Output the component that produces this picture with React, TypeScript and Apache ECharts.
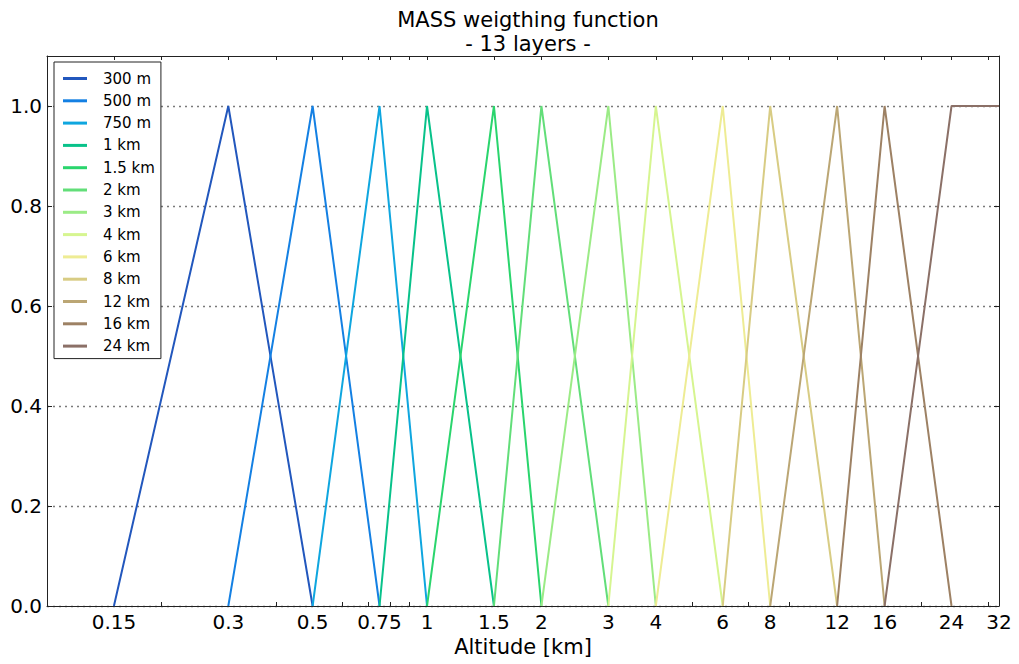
import React, { useEffect, useRef } from "react";
import * as echarts from "echarts";

// ---- data ----
const layerNames = ["300 m", "500 m", "750 m", "1 km", "1.5 km", "2 km", "3 km", "4 km", "6 km", "8 km", "12 km", "16 km", "24 km"];
const layerPeak = [0.3, 0.5, 0.75, 1, 1.5, 2, 3, 4, 6, 8, 12, 16, 24];
const layerLower = [0.15, 0.3, 0.5, 0.75, 1, 1.5, 2, 3, 4, 6, 8, 12, 16];
const layerUpper = [0.5, 0.75, 1, 1.5, 2, 3, 4, 6, 8, 12, 16, 24, 32];
const layerUpperWeight = [0, 0, 0, 0, 0, 0, 0, 0, 0, 0, 0, 0, 1];
const xTickLabels = [0.15, 0.3, 0.5, 0.75, 1, 1.5, 2, 3, 4, 6, 8, 12, 16, 24, 32];
const xMinorTicks = [0.2, 0.3, 0.4, 0.5, 0.6, 0.7, 0.8, 0.9, 2, 3, 4, 5, 6, 7, 8, 9, 20, 30];
const yTickLabels = [0, 0.2, 0.4, 0.6, 0.8, 1.0];
const xRange = [0.1, 32];

const colors = ["#2257bd", "#1480e3", "#0fa6df", "#08c28a", "#2ad56d", "#62de79", "#9beb86", "#d6f590", "#eeec94", "#d8cc84", "#bba674", "#9d8164", "#8b7067"];

const FONT = "DejaVu Sans";
const lg = (v: number) => Math.log2(v);

export default function App() {
  const ref = useRef<HTMLDivElement>(null);
  useEffect(() => {
    if (!ref.current) return;
    const chart = echarts.init(ref.current, null, { renderer: "svg" });
    const allTicks = [...xTickLabels, ...xMinorTicks].map(lg);
    const fmt = (v: number) => String(Number(Math.pow(2, v).toPrecision(4)));
    const series = layerNames.map((name, i) => ({
      name,
      type: "line",
      symbol: "none",
      color: colors[i],
      lineStyle: { width: 2, color: colors[i] },
      data: [
        [lg(layerLower[i]), 0],
        [lg(layerPeak[i]), 1],
        [lg(layerUpper[i]), layerUpperWeight[i]],
      ],
      z: 3,
    }));
    const axisLine = { show: true, onZero: false, lineStyle: { color: "#222", width: 1 } };
    chart.setOption({
      animation: false,
      backgroundColor: "#ffffff",
      title: {
        text: "MASS weigthing function\n- 13 layers -",
        left: 523,
        top: 3,
        textAlign: "center",
        textStyle: { fontFamily: FONT, fontSize: 21, fontWeight: "normal", color: "#000", lineHeight: 24 },
      },
      legend: {
        orient: "vertical",
        left: 54,
        top: 62,
        padding: [9, 6, 5, 9],
        itemGap: 7.3,
        itemWidth: 24,
        itemHeight: 3,
        icon: "rect",
        borderColor: "#222",
        borderWidth: 1,
        backgroundColor: "#fff",
        textStyle: { fontFamily: FONT, fontSize: 15, color: "#000", padding: [0, 0, 0, 11] },
        data: layerNames,
      },
      grid: { left: 47, top: 56, right: 20, bottom: 58, containLabel: false },
      xAxis: [
        {
          type: "value",
          position: "bottom",
          min: lg(xRange[0]),
          max: lg(xRange[1]),
          name: "Altitude [km]",
          nameLocation: "middle",
          nameGap: 30,
          nameTextStyle: { fontFamily: FONT, fontSize: 21, color: "#000" },
          axisLine,
          axisTick: { show: true, inside: true, length: 4, customValues: allTicks, lineStyle: { color: "#222" } },
          axisLabel: {
            customValues: xTickLabels.map(lg),
            formatter: fmt,
            fontFamily: FONT,
            fontSize: 20,
            color: "#000",
            margin: 6,
          },
          splitLine: { show: false },
        },
        {
          type: "value",
          position: "top",
          min: lg(xRange[0]),
          max: lg(xRange[1]),
          axisLine,
          axisTick: { show: true, inside: true, length: 4, customValues: allTicks, lineStyle: { color: "#222" } },
          axisLabel: { show: false },
          splitLine: { show: false },
        },
      ],
      yAxis: [
        {
          type: "value",
          position: "left",
          min: 0,
          max: 1.1,
          interval: 0.1,
          axisLine,
          axisTick: { show: true, inside: true, length: 5, customValues: yTickLabels, lineStyle: { color: "#222" } },
          axisLabel: {
            customValues: yTickLabels,
            formatter: (v: number) => v.toFixed(1),
            fontFamily: FONT,
            fontSize: 20,
            color: "#000",
            margin: 5,
          },
          splitLine: { show: true, lineStyle: { color: "#7a7a7a", type: [2, 4], width: 1.3 } },
        },
        {
          type: "value",
          position: "right",
          min: 0,
          max: 1.1,
          interval: 0.1,
          axisLine,
          axisTick: { show: true, inside: true, length: 5, customValues: yTickLabels, lineStyle: { color: "#222" } },
          axisLabel: { show: false },
          splitLine: { show: false },
        },
      ],
      series,
    });
    return () => chart.dispose();
  }, []);
  return <div ref={ref} style={{ position: "absolute", left: 0, top: 0, width: 1019, height: 664 }} />;
}
